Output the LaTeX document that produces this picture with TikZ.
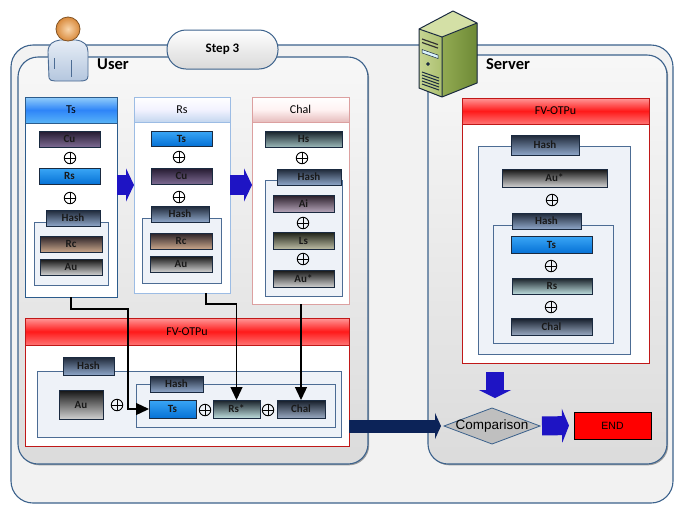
\documentclass[tikz,border=0pt]{standalone}
\usepackage{fontspec}
\setmainfont{Carlito}
\newfontfamily\arialfont{Liberation Sans}
\usetikzlibrary{arrows.meta,shapes.geometric,shadows,calc}

% colours
\definecolor{frameline}{HTML}{3C628C}
\definecolor{outerfill}{HTML}{F2F2F2}
\definecolor{boxline}{HTML}{1A2A40}
\definecolor{grpline}{HTML}{4C6C94}
\definecolor{grpfill}{HTML}{EEF2F8}
\definecolor{cHashT}{HTML}{1E2838}\definecolor{cHashB}{HTML}{8EA6C8}
\definecolor{cCuT}{HTML}{241A30}\definecolor{cCuB}{HTML}{7D6A92}
\definecolor{cBlueT}{HTML}{3AA6F6}\definecolor{cBlueB}{HTML}{0672D6}
\definecolor{cRcT}{HTML}{2A2228}\definecolor{cRcB}{HTML}{C9A68A}
\definecolor{cAuT}{HTML}{141414}\definecolor{cAuB}{HTML}{D0D0D0}
\definecolor{cHsT}{HTML}{152028}\definecolor{cHsB}{HTML}{9AB8B8}
\definecolor{cAiT}{HTML}{281C28}\definecolor{cAiB}{HTML}{B4A4B8}
\definecolor{cLsT}{HTML}{1C2016}\definecolor{cLsB}{HTML}{BCBCA4}
\definecolor{cRssT}{HTML}{182028}\definecolor{cRssB}{HTML}{BCDCDC}
\definecolor{cChalT}{HTML}{141C28}\definecolor{cChalB}{HTML}{98A8C0}
\definecolor{tsline}{HTML}{2C5C8C}
\definecolor{rsline}{HTML}{9CBCE4}
\definecolor{chline}{HTML}{DCA0A0}
\definecolor{fvline}{HTML}{C01818}
\definecolor{arrblue}{HTML}{1E14C4}
\definecolor{arrnavy}{HTML}{0C2358}
\definecolor{srvFrontL}{HTML}{C6D592}
\definecolor{srvFrontR}{HTML}{ACC070}
\definecolor{srvSideL}{HTML}{92AA52}
\definecolor{srvSideR}{HTML}{6E8A36}
\definecolor{srvTop}{HTML}{D4E0A6}
\definecolor{bodyT}{HTML}{E6EDF6}
\definecolor{bodyB}{HTML}{B4C6DE}
\definecolor{headIn}{HTML}{F9D6AC}
\definecolor{headOut}{HTML}{D98A3C}

\newcommand\lblfont{\fontsize{11}{12}\selectfont\bfseries}
\newcommand\hdfont{\fontsize{12}{13}\selectfont}
\newcommand\titlefont{\fontsize{16.5}{18}\selectfont\bfseries}
\newcommand\stepfont{\fontsize{13}{15}\selectfont\bfseries}

% box from corner (x1,y1) to corner (x2,y2), y measured downwards
\newcommand{\dbx}[7]{%
  \pgfmathsetmacro\bw{#5-#3}\pgfmathsetmacro\bh{#6-#4}%
  \pgfmathsetmacro\bcx{(#3+#5)/2}\pgfmathsetmacro\bcy{(#4+#6)/2}%
  \node[#1, minimum width=\bw pt, minimum height=\bh pt] (#2) at (\bcx,\bcy) {#7};}
\newcommand{\xorat}[3]{\node[xorn] (#1) at (#2,#3) {};}

\tikzset{
  every node/.style={inner sep=0pt, outer sep=0pt},
  shd/.style={drop shadow={shadow xshift=1.2pt, shadow yshift=-1.3pt, fill=black, opacity=0.35}},
  dbox/.style 2 args={draw=boxline, line width=0.8pt, top color=#1, bottom color=#2, shd, font=\lblfont, text=black!90},
  hashbx/.style={dbox={cHashT}{cHashB}},
  cubx/.style={dbox={cCuT}{cCuB}},
  bluebx/.style={dbox={cBlueT}{cBlueB}},
  rcbx/.style={dbox={cRcT}{cRcB}},
  aubx/.style={dbox={cAuT}{cAuB}},
  hsbx/.style={dbox={cHsT}{cHsB}},
  aibx/.style={dbox={cAiT}{cAiB}},
  lsbx/.style={dbox={cLsT}{cLsB}},
  rssbx/.style={dbox={cRssT}{cRssB}},
  chalbx/.style={dbox={cChalT}{cChalB}},
  grp/.style={draw=grpline, fill=grpfill, line width=0.8pt, shd},
  column/.style={draw=#1, fill=white, line width=0.9pt, shd},
  hdr/.style n args={4}{draw=#1, line width=0.8pt, top color=#2, bottom color=#4, middle color=#3, font=\hdfont},
  panel/.style={draw=frameline, line width=1.1pt, rounded corners=20pt, top color=white!97!black, bottom color=black!14, shd},
  xorn/.style={circle, draw, line width=0.9pt, minimum size=11.5pt,
    path picture={\draw[line width=0.9pt]
      (path picture bounding box.north) -- (path picture bounding box.south)
      (path picture bounding box.west) -- (path picture bounding box.east);}},
  conn/.style={draw=black, line width=1.3pt, -{Triangle[length=13pt,width=12pt]}},
  bluearr/.style={draw=arrblue, line width=20pt, -{Triangle[length=8pt,width=33pt]}},
}

\begin{document}
\begin{tikzpicture}[x=1pt,y=-1pt]
\useasboundingbox (0,0) rectangle (674,504);
\fill[white] (0,0) rectangle (674,504);

% outer frame and the two panels
\dbx{draw=frameline, line width=1.1pt, rounded corners=22pt, fill=outerfill}{outer}{11}{45}{673}{503}{}
\dbx{panel}{userpanel}{18}{57}{368}{464}{}
\dbx{panel}{serverpanel}{428}{55}{667}{464}{}

% step label
\dbx{draw=frameline, line width=1pt, rounded corners=19pt, top color=white, bottom color=black!15, font=\stepfont}{step}{167}{30}{278}{69}{Step 3}

% user figure
\draw[draw=grpline, line width=0.9pt, top color=bodyT, bottom color=bodyB]
  (49,78) -- (48,52) .. controls (48,44) and (53,41) .. (60,40) -- (76,40)
  .. controls (84,41) and (88,45) .. (88,52) -- (88,76)
  .. controls (88,80) and (85,81) .. (80,81) -- (55,81)
  .. controls (52,81) and (49,80) .. (49,78) -- cycle;
\draw[grpline, line width=0.7pt] (54,58) -- (54,69) (71,60) -- (71,77);
\shadedraw[draw=headOut!60!black, line width=0.8pt, inner color=headIn, outer color=headOut] (68,29) circle (12);
\node[font=\titlefont] (usertxt) at (113,64) {User};

% server figure
\fill[left color=srvFrontL, right color=srvFrontR] (419,29) -- (442,37) -- (442,97) -- (419,88) -- cycle;
\fill[left color=srvSideL, right color=srvSideR] (442,37) -- (477,23) -- (477,83) -- (442,97) -- cycle;
\fill[srvTop] (419,29) -- (453,11) -- (477,23) -- (442,37) -- cycle;
\draw[boxline, line width=1pt, line join=round] (419,29) -- (453,11) -- (477,23) -- (477,83) -- (442,97) -- (419,88) -- cycle
  (419,29) -- (442,37) -- (477,23) (442,37) -- (442,97);
\draw[black!80, line width=1.2pt] (422,39) -- (438,44.6) (422,42.5) -- (438,48.1);
\filldraw[fill=cyan!15, draw=boxline, line width=0.5pt] (422,49.5) -- (438,55.1) -- (438,58.5) -- (422,52.9) -- cycle;
\filldraw[boxline] (428,64) circle (1.7);
\foreach \yv in {72,75,78,81,84} \draw[boxline, line width=1pt] (422,\yv) -- (439,\yv+6);
\node[font=\titlefont] (servertxt) at (508,64) {Server};

% column Ts
\dbx{column=tsline}{colts}{25}{97}{117}{297}{}
\dbx{hdr={tsline}{cBlueT!55!white}{cBlueT!80!blue}{cBlueT!85!white}}{hts}{25}{97}{117}{123}{Ts}
\dbx{cubx}{tcu}{39}{131}{100}{147}{Cu}
\xorat{tx1}{70}{158}
\dbx{bluebx}{trs}{39}{168}{100}{184}{Rs}
\xorat{tx2}{70}{198}
\dbx{grp}{tg}{34}{222}{108}{285}{}
\dbx{hashbx}{th}{46}{210}{100}{226}{Hash}
\dbx{rcbx}{trc}{40}{236}{102}{252}{Rc}
\dbx{aubx}{tau}{40}{259}{102}{275}{Au}

% column Rs
\dbx{column=rsline}{colrs}{134}{97}{230}{293}{}
\dbx{hdr={rsline}{white}{blue!5!white}{rsline!60!white}}{hrs}{134}{97}{230}{122}{Rs}
\dbx{bluebx}{rts}{151}{131}{212}{146}{Ts}
\xorat{rx1}{179}{157}
\dbx{cubx}{rcu}{151}{168}{212}{184}{Cu}
\xorat{rx2}{179}{197}
\dbx{grp}{rg}{142}{218}{221}{283}{}
\dbx{hashbx}{rh}{151}{206}{209}{222}{Hash}
\dbx{rcbx}{rrc}{150}{233}{212}{249}{Rc}
\dbx{aubx}{rau}{150}{256}{212}{272}{Au}

% column Chal
\dbx{column=chline}{colch}{252}{97}{349}{304}{}
\dbx{hdr={chline}{white}{red!5!white}{chline!70!white}}{hch}{252}{97}{349}{122}{Chal}
\dbx{hsbx}{chs}{265}{131}{342}{147}{Hs}
\xorat{cx1}{302}{158}
\dbx{grp}{cg}{265}{180}{342}{296}{}
\dbx{hashbx}{chh}{277}{169}{341}{185}{Hash}
\dbx{aibx}{cai}{273}{195}{334}{212}{Ai}
\xorat{cx2}{303}{223}
\dbx{lsbx}{cls}{273}{232}{334}{249}{Ls}
\xorat{cx3}{303}{259}
\dbx{aubx}{cau}{273}{270}{334}{287}{Au*}

% arrows between the columns
\coordinate (ar1) at (0,185);
\draw[bluearr] (colts.east |- ar1) -- (colrs.west |- ar1);
\draw[bluearr] (colrs.east |- ar1) -- (colch.west |- ar1);

% user FV-OTPu
\dbx{column=fvline}{ufv}{25}{318}{349}{446}{}
\dbx{hdr={fvline}{red!40!white}{red!90!white}{red!55!white}}{ufvh}{25}{318}{349}{345}{FV-OTPu}
\dbx{grp}{ug1}{37}{371}{341}{437}{}
\dbx{hashbx}{uh1}{63}{357}{114}{375}{Hash}
\dbx{aubx}{uau}{59}{390}{103}{419}{Au}
\xorat{ux1}{117}{405}
\dbx{grp}{ug2}{136}{384}{335}{427}{}
\dbx{hashbx}{uh2}{150}{376}{203}{392}{Hash}
\dbx{bluebx}{uts}{149}{400}{196}{418}{Ts}
\xorat{ux2}{205}{410}
\dbx{rssbx}{urs}{213}{400}{260}{418}{Rs*}
\xorat{ux3}{268}{410}
\dbx{chalbx}{uchal}{277}{400}{325}{418}{Chal}

% values carried down from the columns
\draw[conn] (colts.south) -- ++(0,12) -| ($(uts.west)+(-21,0)$) -- (uts.west);
\draw[conn] ($(colrs.south)+(24,0)$) -- ++(0,11) -| (urs.north);
\draw[conn] (uchal.north |- colch.south) -- (uchal.north);

% server FV-OTPu
\dbx{column=fvline}{sfv}{462}{98}{649}{363}{}
\dbx{hdr={fvline}{red!40!white}{red!90!white}{red!55!white}}{sfvh}{462}{98}{649}{124}{FV-OTPu}
\dbx{grp}{sg1}{478}{146}{630}{354}{}
\dbx{hashbx}{sh1}{511}{135}{579}{155}{Hash}
\dbx{aubx}{sau}{502}{169}{607}{187}{Au*}
\xorat{sx1}{552}{200}
\dbx{grp}{sg2}{493}{225}{613}{343}{}
\dbx{hashbx}{sh2}{512}{213}{581}{229}{Hash}
\dbx{bluebx}{sts}{511}{236}{592}{253}{Ts}
\xorat{sx2}{551}{266}
\dbx{rssbx}{srs}{512}{278}{592}{294}{Rs}
\xorat{sx3}{551}{307}
\dbx{chalbx}{schal}{511}{318}{592}{335}{Chal}

% comparison and end
\node[diamond, draw=frameline, line width=0.8pt, fill=black!25, minimum width=96pt, minimum height=36pt,
  label={[font=\arialfont\fontsize{13.5}{15}\selectfont]center:Comparison}] (cmp) at (492,426) {};
\dbx{draw=black, line width=1pt, fill=red, font=\arialfont\fontsize{10.5}{12}\selectfont}{endn}{574}{412}{651}{439}{END}

\coordinate (ar3) at (495,0);
\draw[draw=arrblue, line width=18pt, -{Triangle[length=8pt,width=32pt]}, shorten <=9pt, shorten >=10pt]
  (sfv.south -| ar3) -- (cmp.north -| ar3);
\draw[draw=arrblue, line width=19pt, -{Triangle[length=7pt,width=34pt]}, shorten <=2pt, shorten >=5pt]
  (cmp.east) -- (endn.west);
\draw[draw=arrnavy, line width=13pt, -{Triangle[length=6pt,width=26pt]}, shorten >=3pt]
  (ufv.east |- cmp.west) -- (cmp.west);
\end{tikzpicture}
\end{document}
